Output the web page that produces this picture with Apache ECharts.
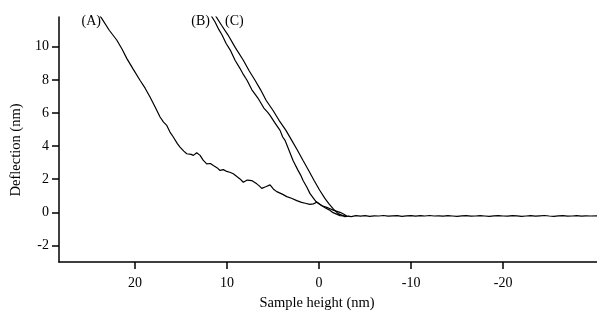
<!DOCTYPE html>
<html>
<head>
<meta charset="utf-8">
<script src="https://cdn.jsdelivr.net/npm/echarts@6/dist/echarts.min.js"></script>
<style>html,body{margin:0;padding:0;background:#fff;}#c{width:597px;height:320px;}</style>
</head>
<body>
<div id="c"></div>
<script>
const xTicks = [20, 10, 0, -10, -20];
const yTicks = [-2, 0, 2, 4, 6, 8, 10];

const curveA = [
  [24.1, 12.1], [23.62, 11.72], [22.8, 11.0], [21.99, 10.41], [21.4, 9.85], [20.9, 9.3], [20.2, 8.65],
  [19.46, 7.98], [18.9, 7.5], [18.37, 6.97], [17.8, 6.35], [17.28, 5.76], [16.9, 5.45], [16.55, 5.25],
  [16.2, 4.85], [15.84, 4.55], [15.4, 4.15], [15.11, 3.94], [14.7, 3.7], [14.38, 3.54], [13.9, 3.5],
  [13.66, 3.44], [13.3, 3.6], [13.12, 3.64], [12.93, 3.44], [12.6, 3.15], [12.21, 2.93], [11.8, 2.95],
  [11.49, 2.83], [11.1, 2.7], [10.76, 2.53], [10.4, 2.58], [10.03, 2.47], [9.7, 2.42], [9.32, 2.33],
  [8.9, 2.15], [8.59, 2.02], [8.23, 1.82], [7.8, 1.95], [7.32, 1.92], [6.77, 1.72], [6.5, 1.6],
  [6.23, 1.45], [5.8, 1.55], [5.33, 1.66], [4.95, 1.4], [4.6, 1.25], [4.0, 1.1], [3.51, 0.95],
  [3.0, 0.85], [2.42, 0.71], [1.9, 0.6], [1.5, 0.55], [1.0, 0.48], [0.62, 0.51], [0.25, 0.61],
  [-0.3, 0.4], [-0.84, 0.3], [-1.2, 0.22], [-1.6, 0.12], [-2.28, 0.0], [-2.7, -0.12], [-3.0, -0.22],
  [-3.5, -0.26], [-4.0, -0.2], [-4.5, -0.23], [-5.0, -0.2], [-5.5, -0.24], [-6.0, -0.21], [-6.5, -0.22],
  [-7.0, -0.19], [-7.5, -0.23], [-8.0, -0.21], [-8.5, -0.2], [-9.0, -0.24], [-9.5, -0.21], [-10.0, -0.2],
  [-10.5, -0.23], [-11.0, -0.2], [-11.5, -0.22], [-12.0, -0.19], [-12.5, -0.22], [-13.0, -0.21],
  [-13.5, -0.23], [-14.0, -0.2], [-14.5, -0.22], [-15.0, -0.24], [-15.5, -0.21], [-16.0, -0.2],
  [-16.5, -0.23], [-17.0, -0.22], [-17.5, -0.2], [-18.0, -0.22], [-18.5, -0.24], [-19.0, -0.21],
  [-19.5, -0.2], [-20.0, -0.22], [-20.5, -0.23], [-21.0, -0.2], [-21.5, -0.21], [-22.0, -0.24],
  [-22.5, -0.22], [-23.0, -0.2], [-23.5, -0.23], [-24.0, -0.21], [-24.5, -0.19], [-25.0, -0.22],
  [-25.5, -0.24], [-26.0, -0.21], [-26.5, -0.2], [-27.0, -0.23], [-27.5, -0.22], [-28.0, -0.2],
  [-28.5, -0.23], [-29.0, -0.21], [-29.5, -0.22], [-30.2, -0.21]
];

const curveB = [
  [12.0, 12.1], [11.77, 11.92], [11.3, 11.5], [10.9, 11.05], [10.54, 10.71], [10.1, 10.2], [9.6, 9.75],
  [9.13, 9.19], [8.6, 8.7], [8.2, 8.3], [7.83, 7.98], [7.3, 7.4], [6.9, 7.1], [6.63, 6.89], [6.0, 6.3],
  [5.6, 6.05], [5.33, 5.86], [4.8, 5.4], [4.24, 4.95], [3.95, 4.55], [3.7, 4.35], [3.3, 3.8],
  [2.83, 3.13], [2.3, 2.55], [2.0, 2.25], [1.74, 1.92], [1.35, 1.55], [0.98, 1.13], [0.6, 0.85],
  [0.33, 0.65], [-0.2, 0.45], [-0.65, 0.28], [-1.1, 0.15], [-1.52, -0.02], [-2.28, -0.2], [-3.0, -0.22]
];

const curveC = [
  [11.5, 12.1], [11.3, 11.92], [10.6, 11.3], [9.89, 10.71], [9.1, 9.95], [8.23, 9.19], [7.6, 8.55],
  [6.96, 7.98], [6.35, 7.4], [5.76, 6.77], [5.0, 6.15], [4.35, 5.56], [3.6, 4.95], [2.97, 4.35],
  [2.35, 3.75], [1.74, 3.13], [1.1, 2.5], [0.54, 1.92], [-0.05, 1.35], [-0.65, 0.83], [-1.1, 0.5],
  [-1.52, 0.22], [-2.07, -0.08], [-2.83, -0.26], [-3.3, -0.22]
];

const seriesNames = ['(A)', '(B)', '(C)'];
const seriesData = [curveA, curveB, curveC];

const serif = '"Liberation Serif", "Times New Roman", serif';
const chart = echarts.init(document.getElementById('c'), null, {renderer: 'canvas'});

chart.setOption({
  animation: false,
  backgroundColor: '#ffffff',
  grid: {left: 59, right: 0, top: 17, bottom: 58},
  xAxis: {
    type: 'value', inverse: true, min: -30.2, max: 28.26,
    axisLine: {show: true, onZero: false, lineStyle: {color: '#000', width: 1.5}},
    axisTick: {show: true, length: 7, inside: false, customValues: xTicks, lineStyle: {color: '#000', width: 1.5}},
    axisLabel: {customValues: xTicks, color: '#000', fontFamily: serif, fontSize: 14, margin: 14},
    splitLine: {show: false}
  },
  yAxis: {
    type: 'value', min: -3, max: 11.8,
    axisLine: {show: true, onZero: false, lineStyle: {color: '#000', width: 1.5}},
    axisTick: {show: true, length: 7, inside: false, customValues: yTicks, lineStyle: {color: '#000', width: 1.5}},
    axisLabel: {customValues: yTicks, color: '#000', fontFamily: serif, fontSize: 14, margin: 10},
    splitLine: {show: false}
  },
  graphic: [
    {type: 'text', x: 16, y: 150, rotation: Math.PI / 2, style: {text: 'Deflection (nm)', font: '14.5px ' + serif, fill: '#000', textAlign: 'center', textVerticalAlign: 'middle'}},
    {type: 'text', x: 317, y: 303, style: {text: 'Sample height (nm)', font: '14.5px ' + serif, fill: '#000', textAlign: 'center', textVerticalAlign: 'middle'}},
    {type: 'text', x: 101, y: 21, style: {text: seriesNames[0], font: '14px ' + serif, fill: '#000', textAlign: 'right', textVerticalAlign: 'middle'}},
    {type: 'text', x: 210, y: 21, style: {text: seriesNames[1], font: '14px ' + serif, fill: '#000', textAlign: 'right', textVerticalAlign: 'middle'}},
    {type: 'text', x: 225, y: 21, style: {text: seriesNames[2], font: '14px ' + serif, fill: '#000', textAlign: 'left', textVerticalAlign: 'middle'}}
  ],
  series: seriesData.map((d, i) => ({
    name: seriesNames[i], type: 'line', data: d, showSymbol: false, symbol: 'none',
    clip: true, lineStyle: {color: '#000', width: 1.2}, z: 3 - i
  }))
});
</script>
</body>
</html>
